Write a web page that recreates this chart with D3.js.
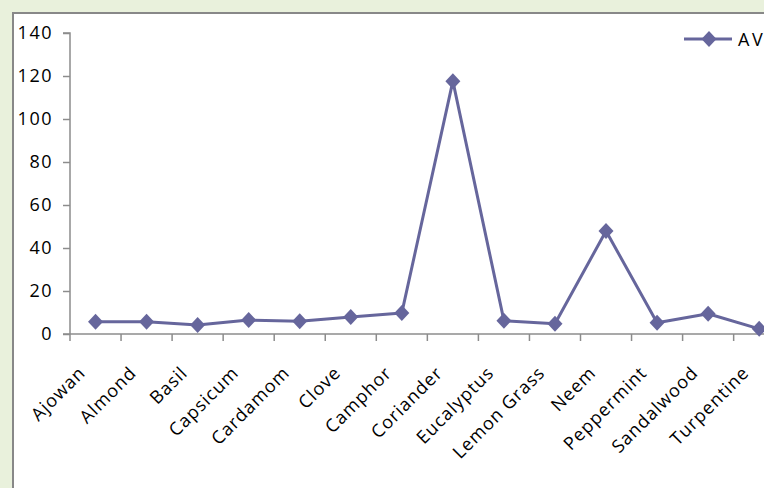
<!DOCTYPE html>
<html>
<head>
<meta charset="utf-8">
<script src="https://cdn.jsdelivr.net/npm/d3@7"></script>
<style>
  html, body { margin: 0; padding: 0; background: #e9f1dc; overflow: hidden; }
  svg { display: block; }
  text { font-family: "Open Sans", "Liberation Sans", sans-serif; fill: #000; }
</style>
</head>
<body>
<svg id="chart" width="764" height="488"></svg>
<script>
// Oil names along the x axis
const oils = ["Ajowan", "Almond", "Basil", "Capsicum", "Cardamom", "Clove", "Camphor",
  "Coriander", "Eucalyptus", "Lemon Grass", "Neem", "Peppermint", "Sandalwood", "Turpentine"];
// AV series values
const avValues = [5.7, 5.7, 4.2, 6.5, 5.9, 7.9, 9.8, 117.6, 6.2, 4.8, 47.9, 5.2, 9.4, 2.4];
// Y axis ticks
const yTicks = [0, 20, 40, 60, 80, 100, 120, 140];
const seriesName = "AV";

const svg = d3.select("#chart");
const lineColor = "#66669c";
const axisColor = "#8c8c8c";

// chart area panel
svg.append("rect")
  .attr("x", 13).attr("y", 13)
  .attr("width", 800).attr("height", 520)
  .attr("fill", "#fff")
  .attr("stroke", "#888")
  .attr("stroke-width", 2);

const x = d3.scaleBand().domain(oils).range([70, 70 + 51.05 * oils.length]);
const y = d3.scaleLinear().domain([0, 140]).range([334, 33]);

// y axis
const yAxis = svg.append("g").attr("transform", "translate(70,0)")
  .call(d3.axisLeft(y).tickValues(yTicks).tickSize(7).tickPadding(10));
yAxis.select(".domain").attr("stroke", axisColor).attr("stroke-width", 1.5)
  .attr("d", `M-7,${y(140)}H0V${y(0)}`);
yAxis.selectAll(".tick line").attr("stroke", axisColor).attr("stroke-width", 1.5);
yAxis.selectAll(".tick text")
  .style("font-size", "18px").style("letter-spacing", "1.5px")
  .attr("fill", "#000");

// x axis with ticks between categories
const xg = svg.append("g");
xg.append("line")
  .attr("x1", 63).attr("x2", x.range()[1])
  .attr("y1", y(0)).attr("y2", y(0))
  .attr("stroke", axisColor).attr("stroke-width", 1.5);
const bounds = oils.map(d => x(d)).concat([x.range()[1]]);
xg.selectAll("line.tk").data(bounds).join("line")
  .attr("class", "tk")
  .attr("x1", d => d).attr("x2", d => d)
  .attr("y1", y(0)).attr("y2", y(0) + 7)
  .attr("stroke", axisColor).attr("stroke-width", 1.5);

// rotated category labels
xg.selectAll("text.cat").data(oils).join("text")
  .attr("class", "cat")
  .attr("text-anchor", "end")
  .attr("transform", d => `translate(${x(d) + x.bandwidth() / 2 - 9},${y(0) + 40}) rotate(-45)`)
  .style("font-size", "18px").style("letter-spacing", "1px")
  .text(d => d);

// series line
const pts = oils.map((d, i) => [x(d) + x.bandwidth() / 2, y(avValues[i])]);
svg.append("path")
  .attr("d", d3.line()(pts))
  .attr("fill", "none")
  .attr("stroke", lineColor)
  .attr("stroke-width", 3)
  .attr("stroke-linejoin", "round");

const diamond = (cx, cy, w, h) => `M${cx},${cy - h}L${cx + w},${cy}L${cx},${cy + h}L${cx - w},${cy}Z`;
svg.selectAll("path.mk").data(pts).join("path")
  .attr("class", "mk")
  .attr("d", p => diamond(p[0], p[1], 7.5, 8))
  .attr("fill", lineColor);

// legend
const lg = svg.append("g").attr("transform", "translate(684,39)");
lg.append("line").attr("x1", 0).attr("x2", 48).attr("y1", 0).attr("y2", 0)
  .attr("stroke", lineColor).attr("stroke-width", 3);
lg.append("path").attr("d", diamond(25, 0, 7.5, 8)).attr("fill", lineColor);
lg.append("text").attr("x", 54).attr("y", 6.5)
  .style("font-size", "18px").style("letter-spacing", "2.5px")
  .text(seriesName);
</script>
</body>
</html>
